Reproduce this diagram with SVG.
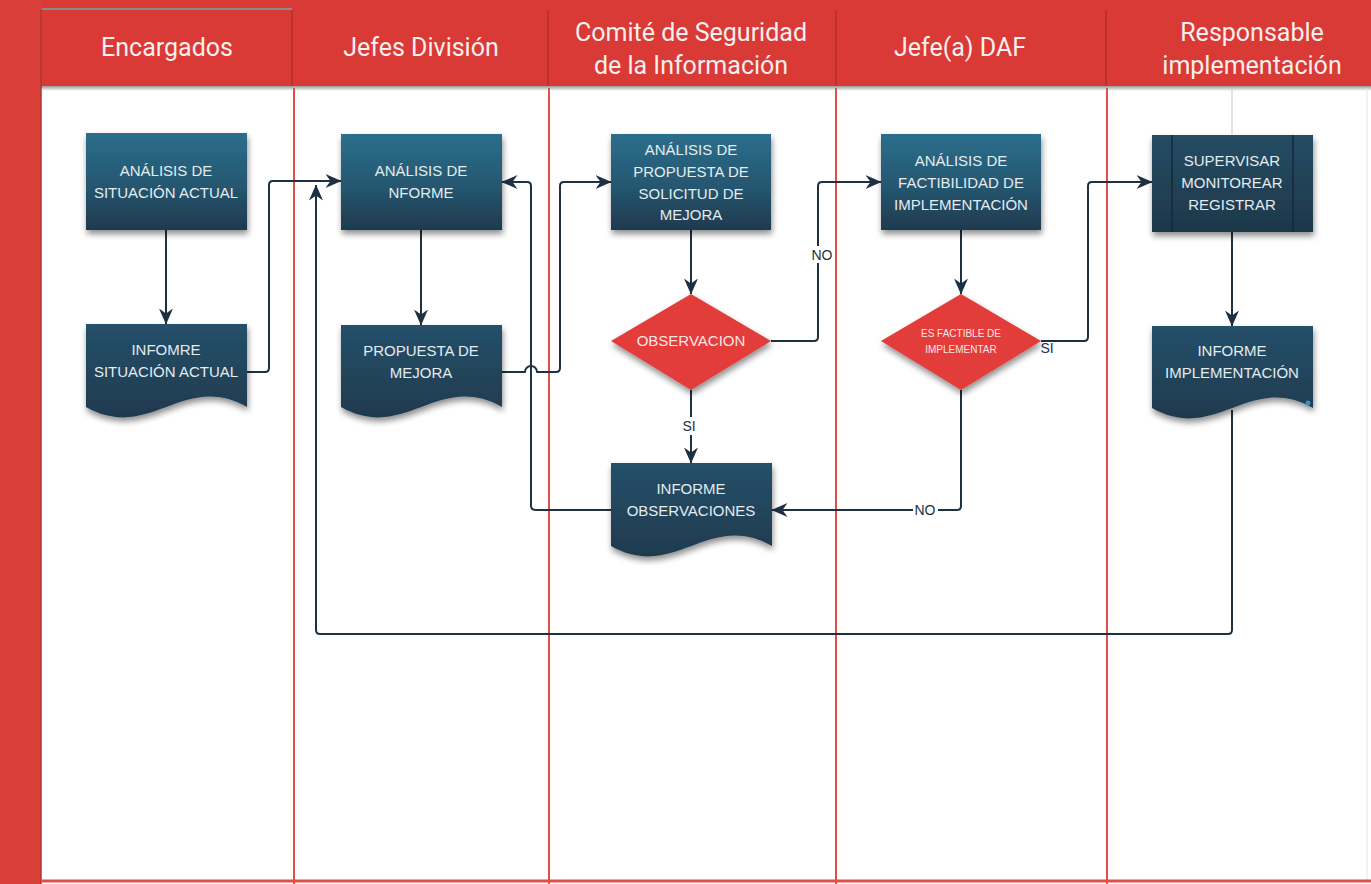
<svg xmlns="http://www.w3.org/2000/svg" width="1371" height="884" viewBox="0 0 1371 884">
<defs>
<linearGradient id="gBox" x1="0" y1="0" x2="0" y2="1">
<stop offset="0" stop-color="#2b6f8c"/><stop offset="0.55" stop-color="#255670"/><stop offset="1" stop-color="#1f3a4e"/>
</linearGradient>
<linearGradient id="gDoc" x1="0" y1="0" x2="0" y2="1">
<stop offset="0" stop-color="#25506a"/><stop offset="1" stop-color="#1f3a4e"/>
</linearGradient>
<linearGradient id="gSup" x1="0" y1="0" x2="0" y2="1">
<stop offset="0" stop-color="#254d63"/><stop offset="1" stop-color="#1e3749"/>
</linearGradient>
<linearGradient id="gShade" x1="0" y1="0" x2="0" y2="1">
<stop offset="0" stop-color="#9a9a9a"/><stop offset="1" stop-color="#ffffff"/>
</linearGradient>
<filter id="sh" x="-10%" y="-10%" width="125%" height="130%">
<feGaussianBlur in="SourceAlpha" stdDeviation="3"/>
<feOffset dx="1" dy="4" result="b"/>
<feComponentTransfer><feFuncA type="linear" slope="0.45"/></feComponentTransfer>
<feMerge><feMergeNode/><feMergeNode in="SourceGraphic"/></feMerge>
</filter>
<marker id="arr" viewBox="0 0 16 14" refX="15.5" refY="7" markerWidth="16" markerHeight="14" orient="auto" markerUnits="userSpaceOnUse">
<path d="M0,0 L16,7 L0,14 L5,7 z" fill="#1d3142"/>
</marker>
</defs>
<style>
.hdr{font-family:"Roboto","Liberation Sans",sans-serif;font-size:25px;fill:#fbeeee;text-anchor:middle}
.nt{font-family:"Liberation Sans","Roboto",sans-serif;font-size:15px;fill:#e4ecf0;text-anchor:middle}
.dt{font-family:"Liberation Sans","Roboto",sans-serif;font-size:15px;fill:#fbe4e4;text-anchor:middle}
.dts{font-family:"Liberation Sans","Roboto",sans-serif;font-size:10px;fill:#fbe4e4;text-anchor:middle}
.lbl{font-family:"Liberation Sans","Roboto",sans-serif;font-size:14px;fill:#1d3142;text-anchor:middle}
.lane{stroke:#e0504a;stroke-width:2;fill:none}
.sep{stroke:#b52e2a;stroke-width:1.5}
.con{fill:none;stroke:#1d3142;stroke-width:2;stroke-linejoin:round}
.box{filter:url(#sh)}
.dia{fill:#e23d3a;filter:url(#sh)}
</style>

<!-- background / swimlanes -->
<g id="lanes">
<rect x="0" y="0" width="1371" height="884" fill="#ffffff"/>
<rect x="0" y="0" width="1371" height="88" fill="#d93a35"/>
<rect x="0" y="0" width="41" height="884" fill="#da3f39"/>
<line x1="41" y1="10" x2="41" y2="884" stroke="#a83a36" stroke-width="1.5"/>
<line x1="42" y1="9" x2="292" y2="9" stroke="#8c8c8c" stroke-width="2"/>
<rect x="42" y="86" width="1329" height="5" fill="url(#gShade)"/>
<line class="sep" x1="292" y1="10" x2="292" y2="86"/>
<line class="sep" x1="548" y1="10" x2="548" y2="86"/>
<line class="sep" x1="836" y1="10" x2="836" y2="86"/>
<line class="sep" x1="1106" y1="10" x2="1106" y2="86"/>
<line class="lane" x1="294" y1="88" x2="294" y2="884"/>
<line class="lane" x1="549" y1="88" x2="549" y2="884"/>
<line class="lane" x1="836" y1="88" x2="836" y2="884"/>
<line class="lane" x1="1107" y1="88" x2="1107" y2="884"/>
<line x1="1232" y1="88" x2="1232" y2="134" stroke="#c8c8c8" stroke-width="1"/>
<line x1="1367" y1="88" x2="1367" y2="880" stroke="#e4e4e4" stroke-width="1"/>
<line x1="41" y1="881" x2="1371" y2="881" stroke="#e0504a" stroke-width="3"/>
<text class="hdr" x="167" y="56">Encargados</text>
<text class="hdr" x="421" y="56">Jefes División</text>
<text class="hdr" x="691" y="41">Comité de Seguridad</text>
<text class="hdr" x="691" y="74">de la Información</text>
<text class="hdr" x="960" y="56">Jefe(a) DAF</text>
<text class="hdr" x="1252" y="41">Responsable</text>
<text class="hdr" x="1252" y="74">implementación</text>
</g>

<!-- connectors -->
<g id="connectors">
<path class="con" d="M166,230 V324" marker-end="url(#arr)"/>
<path class="con" d="M247,372 H265 Q269,372 269,368 V185 Q269,181 273,181 H341" marker-end="url(#arr)"/>
<path class="con" d="M421,230 V325" marker-end="url(#arr)"/>
<path class="con" d="M502,372 H525 A6,6 0 0 1 537,372 H556 Q560,372 560,368 V186 Q560,182 564,182 H611" marker-end="url(#arr)"/>
<path class="con" d="M611,510 H536 Q531,510 531,506 V186 Q531,182 527,182 H502" marker-end="url(#arr)"/>
<path class="con" d="M691,230 V294" marker-end="url(#arr)"/>
<path class="con" d="M691,390 V463" marker-end="url(#arr)"/>
<path class="con" d="M771,341 H814 Q818,341 818,337 V186 Q818,182 822,182 H881" marker-end="url(#arr)"/>
<path class="con" d="M961,230 V294" marker-end="url(#arr)"/>
<path class="con" d="M1041,341 H1084 Q1088,341 1088,337 V186 Q1088,182 1092,182 H1152" marker-end="url(#arr)"/>
<path class="con" d="M961,390 V506 Q961,510 957,510 H772" marker-end="url(#arr)"/>
<path class="con" d="M1232,232 V326" marker-end="url(#arr)"/>
<path class="con" d="M1232,410 V630 Q1232,634 1228,634 H320 Q316,634 316,630 V185" marker-end="url(#arr)"/>
<rect x="681" y="417" width="16" height="18" fill="#ffffff"/>
<text class="lbl" x="689" y="431">SI</text>
<rect x="810" y="246" width="24" height="17" fill="#ffffff"/>
<text class="lbl" x="822" y="260">NO</text>
<text class="lbl" x="1047" y="353">SI</text>
<rect x="913" y="502" width="25" height="16" fill="#ffffff"/>
<text class="lbl" x="925" y="515">NO</text>
</g>

<!-- nodes -->
<g id="n-analisis-situacion">
<rect class="box" x="86" y="133" width="161" height="97" fill="url(#gBox)"/>
<text class="nt" x="166" y="176">ANÁLISIS DE</text>
<text class="nt" x="166" y="198">SITUACIÓN ACTUAL</text>
</g>
<g id="n-informe-situacion">
<path class="box" d="M86,324 H247 V407 C182.6,371 150.4,443 86,407 Z" fill="url(#gDoc)"/>
<text class="nt" x="166" y="355">INFOMRE</text>
<text class="nt" x="166" y="377">SITUACIÓN ACTUAL</text>
</g>
<g id="n-analisis-informe">
<rect class="box" x="341" y="134" width="161" height="96" fill="url(#gBox)"/>
<text class="nt" x="421" y="176">ANÁLISIS DE</text>
<text class="nt" x="421" y="198">NFORME</text>
</g>
<g id="n-propuesta">
<path class="box" d="M341,325 H502 V407 C437.6,371 405.4,443 341,407 Z" fill="url(#gDoc)"/>
<text class="nt" x="421" y="356">PROPUESTA DE</text>
<text class="nt" x="421" y="378">MEJORA</text>
</g>
<g id="n-analisis-propuesta">
<rect class="box" x="611" y="134" width="160" height="96" fill="url(#gBox)"/>
<text class="nt" x="691" y="155">ANÁLISIS DE</text>
<text class="nt" x="691" y="177">PROPUESTA DE</text>
<text class="nt" x="691" y="199">SOLICITUD DE</text>
<text class="nt" x="691" y="220">MEJORA</text>
</g>
<g id="n-observacion">
<polygon class="dia" points="691,294 771,341 691,390 611,341"/>
<text class="dt" x="691" y="346">OBSERVACION</text>
</g>
<g id="n-informe-observaciones">
<path class="box" d="M611,463 H772 V546 C707.6,510 675.4,582 611,546 Z" fill="url(#gDoc)"/>
<text class="nt" x="691" y="494">INFORME</text>
<text class="nt" x="691" y="516">OBSERVACIONES</text>
</g>
<g id="n-analisis-factibilidad">
<rect class="box" x="881" y="134" width="160" height="96" fill="url(#gBox)"/>
<text class="nt" x="961" y="166">ANÁLISIS DE</text>
<text class="nt" x="961" y="188">FACTIBILIDAD DE</text>
<text class="nt" x="961" y="210">IMPLEMENTACIÓN</text>
</g>
<g id="n-es-factible">
<polygon class="dia" points="961,294 1041,341 961,390 881,341"/>
<text class="dts" x="961" y="337">ES FACTIBLE DE</text>
<text class="dts" x="961" y="353">IMPLEMENTAR</text>
</g>
<g id="n-supervisar">
<rect class="box" x="1152" y="135" width="161" height="97" fill="url(#gSup)"/>
<line x1="1172" y1="135" x2="1172" y2="232" stroke="#16293a" stroke-width="1.5"/>
<line x1="1293" y1="135" x2="1293" y2="232" stroke="#16293a" stroke-width="1.5"/>
<text class="nt" x="1232" y="166">SUPERVISAR</text>
<text class="nt" x="1232" y="188">MONITOREAR</text>
<text class="nt" x="1232" y="210">REGISTRAR</text>
</g>
<g id="n-informe-implementacion">
<path class="box" d="M1152,326 H1313 V408 C1248.6,372 1216.4,444 1152,408 Z" fill="url(#gDoc)"/>
<circle cx="1308" cy="403" r="2.5" fill="#3d8fc2"/>
<text class="nt" x="1232" y="356">INFORME</text>
<text class="nt" x="1232" y="378">IMPLEMENTACIÓN</text>
</g>
</svg>
